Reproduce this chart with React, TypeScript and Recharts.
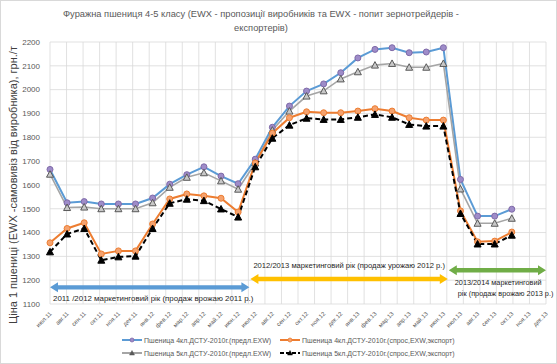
import React from 'react';
import { LineChart, Line, XAxis, YAxis, CartesianGrid } from 'recharts';

const categories = ['июл.11','авг.11','сен.11','окт.11','ноя.11','дек.11','янв.12','фев.12','мар.12','апр.12','май.12','июн.12','июл.12','авг.12','сен.12','окт.12','ноя.12','дек.12','янв.13','фев.13','мар.13','апр.13','май.13','июн.13','июл.13','авг.13','сен.13','окт.13','ноя.13','дек.13'];

const wheat4Offer = [1665,1525,1530,1520,1520,1520,1545,1603,1643,1676,1637,1605,1708,1842,1931,1994,2024,2071,2133,2169,2176,2155,2158,2176,1623,1469,1469,1498,null,null];
const wheat4Export = [1357,1417,1441,1310,1323,1323,1436,1541,1562,1554,1544,1486,1692,1817,1882,1907,1903,1903,1910,1920,1910,1882,1872,1872,1491,1361,1364,1402,null,null];
const wheat5Offer = [1645,1505,1507,1500,1500,1500,1525,1590,1632,1651,1617,1582,1692,1830,1910,1973,1995,2045,2075,2103,2110,2094,2094,2110,1583,1439,1439,1460,null,null];
const wheat5Export = [1319,1394,1417,1284,1298,1301,1417,1523,1540,1534,1499,1465,1676,1796,1851,1880,1875,1875,1884,1896,1884,1854,1847,1847,1480,1352,1352,1389,null,null];

const yTicks = [1100,1200,1300,1400,1500,1600,1700,1800,1900,2000,2100,2200];

const seriesNames = [
  'Пшеница 4кл.ДСТУ-2010г.(предл.EXW)',
  'Пшеница 4кл.ДСТУ-2010г.(спрос,EXW,экспорт)',
  'Пшеница 5кл.ДСТУ-2010г.(предл.EXW)',
  'Пшеница 5кл.ДСТУ-2010г.(спрос,EXW,экспорт)',
];

const title1 = 'Фуражна пшениця 4-5 класу (EWX - пропозиції виробників та EWX - попит зернотрейдерів -';
const title2 = 'експортерів)';
const yLabel = 'Ціна 1 пшениці (EWX -самовивіз від виробника), грн./т';

const periods = [
  { from: 0, to: 12, value: 1170, color: '#5b9bd5', lines: ['2011 /2012 маркетинговий рік (продаж врожаю 2011 р.)'] },
  { from: 12, to: 24, value: 1205, color: '#ffc000', lines: ['2012/2013  маркетинговий рік (продаж урожаю 2012 р.)'] },
  { from: 24, to: 30, value: 1242, color: '#70ad47', lines: ['2013/2014  маркетинговий', 'рік (продаж врожаю 2013  р.)'] },
];

const data = categories.map((c, i) => ({
  name: c,
  s4o: wheat4Offer[i],
  s4e: wheat4Export[i],
  s5o: wheat5Offer[i],
  s5e: wheat5Export[i],
}));

const W = 557, H = 364;
const M = { top: 42, right: 11, bottom: 0, left: 0 };
const XH = 60;
const YW = 50;
const PL = M.left + YW, PR = W - M.right, PT = M.top, PB = H - M.bottom - XH;
const yMin = 1100, yMax = 2200;
const FONT = '"Liberation Sans", Arial, sans-serif';

const circleDot = (fill: string, stroke: string) => (p: any) =>
  p.cx == null || p.cy == null || p.value == null ? <g key={p.index} /> :
  <circle key={p.index} cx={p.cx} cy={p.cy} r={3} fill={fill} stroke={stroke} strokeWidth={1} />;

const triDot = (fill: string, stroke: string) => (p: any) =>
  p.cx == null || p.cy == null || p.value == null ? <g key={p.index} /> :
  <path key={p.index} d={`M${p.cx},${p.cy - 3.5} L${p.cx + 3.5},${p.cy + 3} L${p.cx - 3.5},${p.cy + 3} Z`} fill={fill} stroke={stroke} strokeWidth={1} />;

const XTick = (p: any) => (
  <text x={p.x} y={p.y} transform={`rotate(-45 ${p.x} ${p.y})`} textAnchor="end" fontSize={6} fill="#595959" fontFamily={FONT} dy={3}>
    {p.payload.value}
  </text>
);

const legendItems = [
  { name: seriesNames[0], color: '#5b9bd5', marker: 'circle', mf: '#9e8cc9', ms: '#7f6aa8', dash: undefined },
  { name: seriesNames[1], color: '#ed7d31', marker: 'circle', mf: '#f5a26e', ms: '#ed7d31', dash: undefined },
  { name: seriesNames[2], color: '#a5a5a5', marker: 'tri', mf: '#595959', ms: '#595959', dash: undefined },
  { name: seriesNames[3], color: '#000000', marker: 'tri', mf: '#000000', ms: '#000000', dash: '4 2' },
];

const LegendBox = () => (
  <div style={{ position: 'absolute', left: 0, top: 335, width: W, display: 'grid', gridTemplateColumns: '158px 220px', rowGap: 3, paddingLeft: 122, fontFamily: FONT, fontSize: 7, color: '#595959', boxSizing: 'border-box' }}>
    {legendItems.map((it) => (
      <div key={it.name} style={{ display: 'flex', alignItems: 'center', height: 10, whiteSpace: 'nowrap' }}>
        <svg width={20} height={8} style={{ marginRight: 2 }}>
          <line x1={0} y1={4} x2={20} y2={4} stroke={it.color} strokeWidth={2} strokeDasharray={it.dash} />
          {it.marker === 'circle'
            ? <circle cx={10} cy={4} r={2} fill={it.mf} stroke={it.ms} strokeWidth={0.8} />
            : <path d="M10,1.5 L12.5,6 L7.5,6 Z" fill={it.mf} stroke={it.ms} strokeWidth={0.5} />}
        </svg>
        <span>{it.name}</span>
      </div>
    ))}
  </div>
);

const yPix = (v: number) => PT + (yMax - v) / (yMax - yMin) * (PB - PT);
const band = (PR - PL) / categories.length;
const xb = (i: number) => PL + i * band;

const DoubleArrow = ({ x1, x2, y, color }: any) => {
  const hl = 8, hw = 5, sw = 2.2;
  const d = `M${x1},${y} L${x1 + hl},${y - hw} L${x1 + hl},${y - sw} L${x2 - hl},${y - sw} L${x2 - hl},${y - hw} L${x2},${y} L${x2 - hl},${y + hw} L${x2 - hl},${y + sw} L${x1 + hl},${y + sw} L${x1 + hl},${y + hw} Z`;
  return <path d={d} fill={color} />;
};

export default function App() {
  return (
    <div style={{ position: 'relative', width: W, height: H, background: '#fff' }}>
      <style>{`body{margin:0}`}</style>
      <div style={{ position: 'absolute', left: 0, top: 0, width: W - 2, height: H - 2, border: '1px solid #d9d9d9' }} />
      <div style={{ position: 'absolute', left: 0, top: 0 }}>
        <LineChart width={W} height={H} data={data} margin={M}>
          <CartesianGrid
            stroke="#d9d9d9"
            strokeWidth={0.8}
            verticalCoordinatesGenerator={({ offset }: any) =>
              Array.from({ length: categories.length + 1 }, (_, i) => offset.left + (i * offset.width) / categories.length)
            }
          />
          <XAxis dataKey="name" interval={0} tick={<XTick />} tickLine={false} axisLine={false} height={XH} />
          <YAxis width={YW} domain={[yMin, yMax]} ticks={yTicks} tickLine={false} axisLine={false} tickMargin={4}
            tick={{ fontSize: 8, fill: '#595959', fontFamily: FONT }} allowDataOverflow />
          <Line name={seriesNames[0]} dataKey="s4o" stroke="#5b9bd5" strokeWidth={2} dot={circleDot('#9e8cc9', '#7f6aa8')} isAnimationActive={false} />
          <Line name={seriesNames[2]} dataKey="s5o" stroke="#a5a5a5" strokeWidth={1.6} dot={triDot('#c8c8c8', '#595959')} isAnimationActive={false} />
          <Line name={seriesNames[1]} dataKey="s4e" stroke="#ed7d31" strokeWidth={2} dot={circleDot('#f5a26e', '#ed7d31')} isAnimationActive={false} />
          <Line name={seriesNames[3]} dataKey="s5e" stroke="#000000" strokeWidth={2} strokeDasharray="5 3" dot={triDot('#000000', '#000000')} isAnimationActive={false} />
        </LineChart>
      </div>
      <LegendBox />
      <svg width={W} height={H} style={{ position: 'absolute', left: 0, top: 0, pointerEvents: 'none' }} fontFamily={FONT}>
        <text x={261} y={17} textAnchor="middle" fontSize={9.3} fill="#595959">{title1}</text>
        <text x={261} y={31} textAnchor="middle" fontSize={9.3} fill="#595959">{title2}</text>
        <text x={0} y={0} transform={`translate(17 ${(PT + PB) / 2 + 12}) rotate(-90)`} textAnchor="middle" fontSize={11} fill="#404040">{yLabel}</text>
        {periods.map((p, k) => {
          const x1 = xb(p.from) + (p.from > 0 ? 2 : 0);
          const x2 = xb(p.to) + (p.to < categories.length ? 1 : 0);
          const y = yPix(p.value);
          return (
            <g key={k}>
              <DoubleArrow x1={x1} x2={x2} y={y} color={p.color} />
              {k === 0 && <text x={x1 + 3} y={y + 14} fontSize={7.9} fill="#262626">{p.lines[0]}</text>}
              {k === 1 && <text x={x1 + 3} y={y - 11} fontSize={7.6} fill="#262626">{p.lines[0]}</text>}
              {k === 2 && (
                <>
                  <text x={x1 + 6} y={y + 15} fontSize={7.3} fill="#262626">{p.lines[0]}</text>
                  <text x={x1 + 9} y={y + 26} fontSize={7.3} fill="#262626">{p.lines[1]}</text>
                </>
              )}
            </g>
          );
        })}
      </svg>
    </div>
  );
}
